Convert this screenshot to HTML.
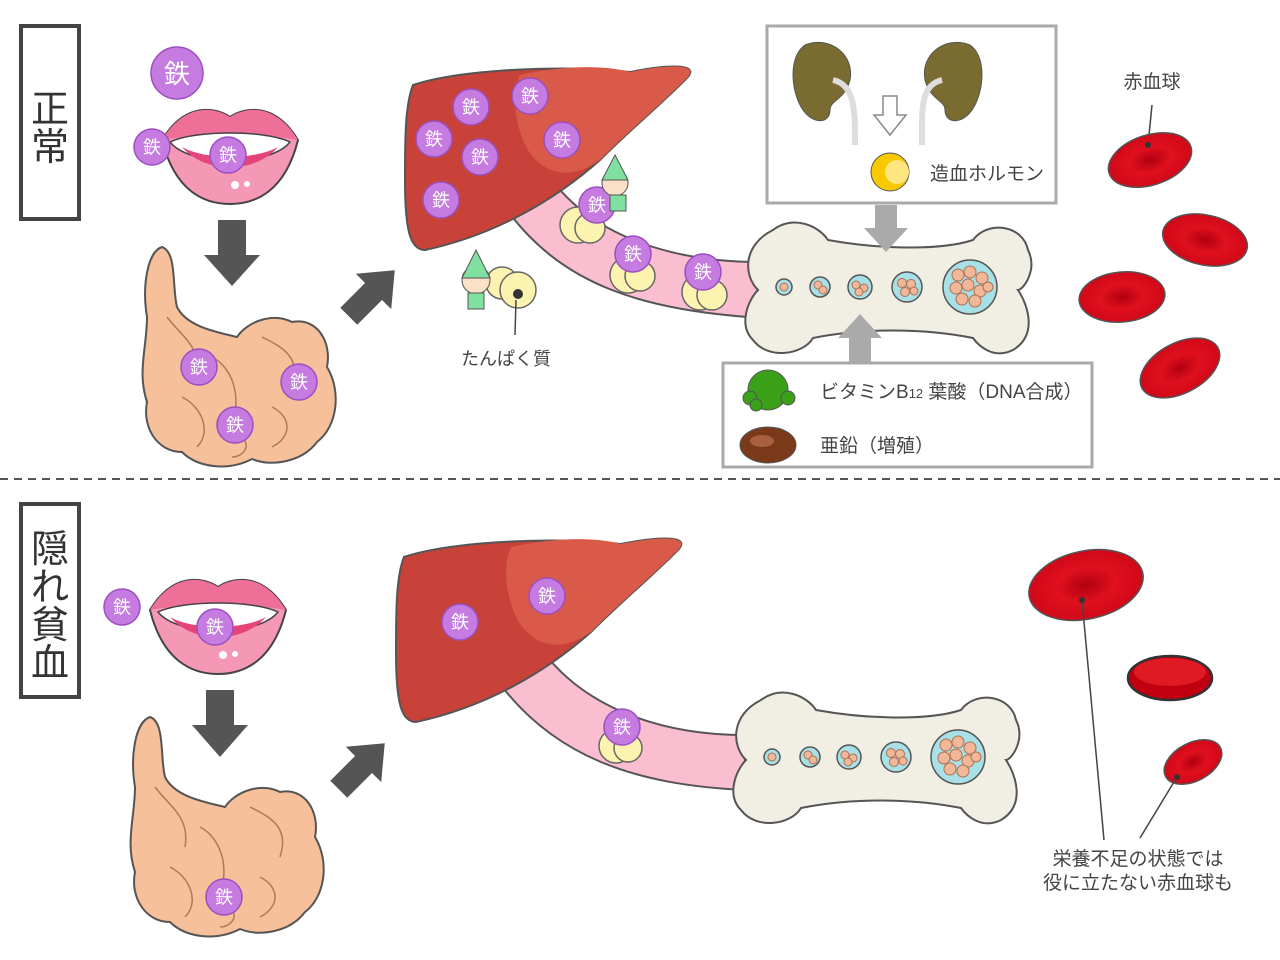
<!DOCTYPE html>
<html><head><meta charset="utf-8"><style>
html,body{margin:0;padding:0;background:#fff;}
svg{display:block;font-family:"Liberation Sans","Noto Sans CJK JP",sans-serif;}
</style></head><body>
<svg width="1280" height="960" viewBox="0 0 1280 960" xmlns="http://www.w3.org/2000/svg">
<defs>
<g id="fe"><circle r="18" fill="#c57be0" stroke="#9b4fc0" stroke-width="1.5"/><text y="6.5" text-anchor="middle" font-size="18" fill="#fff">鉄</text></g>
<radialGradient id="rbc" cx="0.5" cy="0.5" r="0.5"><stop offset="0" stop-color="#b00010"/><stop offset="0.5" stop-color="#e0101e"/><stop offset="1" stop-color="#d00818"/></radialGradient>
<g id="lips">
<path d="M-68,-12 C-45,-50 -15,-45 0,-35 C15,-45 45,-50 68,-12 C55,40 25,52 0,52 C-25,52 -55,40 -68,-12Z" fill="#f598b5" stroke="#444" stroke-width="2"/>
<path d="M-68,-12 C-45,-50 -15,-45 0,-35 C15,-45 45,-50 68,-12 C40,-18 -40,-18 -68,-12Z" fill="#ee6f98"/>
<path d="M-60,-10 C-35,-22 35,-22 60,-10 C40,15 -40,15 -60,-10Z" fill="#fff" stroke="#444" stroke-width="1.5"/>
<path d="M-48,-5 C-25,22 25,22 48,-5 C25,8 -25,8 -48,-5Z" fill="#e6457a"/>
<circle cx="5" cy="33" r="4" fill="#fff"/><circle cx="17" cy="32" r="3" fill="#fff"/>
</g>
<g id="gut">
<path d="M20,0 C35,5 30,40 35,60 C45,80 75,85 95,90 C105,75 130,65 150,75 C175,70 190,95 185,120 C200,145 195,180 175,195 C160,215 130,220 110,212 C85,225 55,220 40,205 C15,205 0,180 5,155 C-5,125 5,100 5,70 C0,40 5,5 20,0Z" fill="#f5c09a" stroke="#555" stroke-width="2"/>
<path d="M25,70 C40,90 60,100 55,130 M70,110 C90,120 100,150 90,175 M120,90 C140,100 160,110 150,140 M40,150 C60,160 70,185 55,200 M130,160 C150,170 150,190 130,200 M100,190 C110,200 100,210 90,210" fill="none" stroke="#b07a5a" stroke-width="1.5"/>
</g>
<g id="liver">
<path d="M8,25 C60,8 170,5 225,12 C260,5 300,2 280,20 C255,45 225,70 195,100 C150,140 90,175 20,190 C5,190 0,170 0,120 C0,80 0,45 8,25Z" fill="#c8423a" stroke="#555" stroke-width="2"/>
<path d="M115,15 C160,5 200,5 225,12 C260,5 300,2 280,20 C255,45 225,70 195,100 C160,125 130,110 118,80 C108,55 108,30 115,15Z" fill="#d95a48"/>
</g>
<g id="bone">
<path d="M30,10 C50,-5 75,5 85,20 C140,30 200,30 230,20 C245,0 280,5 285,30 C295,50 280,70 275,70 C285,85 295,115 270,130 C250,140 235,125 230,118 C180,108 120,108 70,118 C60,135 25,140 10,120 C-5,105 5,80 15,70 C0,55 0,25 30,10Z" fill="#f1eee4" stroke="#555" stroke-width="2"/>
</g>
</defs>

<rect x="21" y="26" width="58" height="193" fill="#fff" stroke="#444" stroke-width="4"/>
<text x="50" y="122" text-anchor="middle" font-size="38" fill="#333">正</text>
<text x="50" y="160" text-anchor="middle" font-size="38" fill="#333">常</text>

<circle cx="177" cy="73" r="26" fill="#c57be0" stroke="#9b4fc0" stroke-width="1.5"/><text x="177" y="83" text-anchor="middle" font-size="26" fill="#fff">鉄</text>
<use href="#lips" x="230" y="152"/>
<use href="#fe" x="152" y="147"/><use href="#fe" x="228" y="155"/>
<polygon points="218,220 246,220 246,255 260,255 232,286 204,255 218,255" fill="#555"/>
<use href="#gut" x="142" y="247"/>
<use href="#fe" x="199" y="367"/><use href="#fe" x="299" y="382"/><use href="#fe" x="235" y="425"/>
<g transform="translate(370,295) rotate(-45)"><polygon points="-30,-12 5,-12 5,-25 35,0 5,25 5,12 -30,12" fill="#555"/></g>

<path d="M500,200 C560,290 650,310 760,318 L760,262 C680,262 590,240 545,170Z" fill="#fbbdd0" stroke="#555" stroke-width="2"/>
<use href="#liver" x="405" y="60"/>
<use href="#fe" x="471" y="107"/><use href="#fe" x="530" y="96"/><use href="#fe" x="434" y="139"/><use href="#fe" x="480" y="157"/><use href="#fe" x="562" y="140"/><use href="#fe" x="441" y="200"/>
<g fill="#fdf3b0" stroke="#666" stroke-width="1.5">
<circle cx="578" cy="225" r="18"/><circle cx="590" cy="228" r="15"/>
<circle cx="628" cy="275" r="18"/><circle cx="640" cy="276" r="15"/>
<circle cx="700" cy="292" r="18"/><circle cx="712" cy="295" r="15"/>
<circle cx="502" cy="283" r="16"/><circle cx="518" cy="290" r="18"/>
</g>
<circle cx="518" cy="294" r="5" fill="#333"/>
<use href="#fe" x="597" y="205"/><use href="#fe" x="633" y="254"/><use href="#fe" x="703" y="272"/>
<g><circle cx="476" cy="280" r="14" fill="#fbe0c8" stroke="#555"/><path d="M462,278 L476,250 L490,278Z" fill="#7fe0a0" stroke="#555"/><rect x="468" y="293" width="16" height="16" fill="#7fe0a0" stroke="#555"/></g>
<g><circle cx="615" cy="183" r="13" fill="#fbe0c8" stroke="#555"/><path d="M602,180 L615,155 L628,180Z" fill="#7fe0a0" stroke="#555"/><rect x="610" y="195" width="16" height="16" fill="#7fe0a0" stroke="#555"/></g>
<line x1="516" y1="300" x2="515" y2="335" stroke="#444" stroke-width="1.5"/>
<text x="506" y="365" text-anchor="middle" font-size="18" fill="#444">たんぱく質</text>

<use href="#bone" x="743" y="220"/>
<g fill="#a8e0e8" stroke="#555" stroke-width="1.5">
<circle cx="784" cy="287" r="8"/><circle cx="820" cy="287" r="10"/><circle cx="860" cy="287" r="12"/><circle cx="907" cy="287" r="15"/><circle cx="970" cy="287" r="27"/></g>
<g fill="#f0b898" stroke="#b07050"><circle cx="784" cy="287" r="4"/><circle cx="818" cy="285" r="4"/><circle cx="823" cy="290" r="4"/><circle cx="856" cy="285" r="4"/><circle cx="864" cy="288" r="4"/><circle cx="859" cy="292" r="4"/><circle cx="902" cy="283" r="4.5"/><circle cx="911" cy="284" r="4.5"/><circle cx="905" cy="292" r="4.5"/><circle cx="914" cy="291" r="4"/>
<circle cx="958" cy="275" r="6"/><circle cx="970" cy="272" r="6"/><circle cx="982" cy="278" r="6"/><circle cx="956" cy="288" r="6"/><circle cx="968" cy="285" r="6"/><circle cx="980" cy="291" r="6"/><circle cx="962" cy="299" r="6"/><circle cx="975" cy="301" r="6"/><circle cx="988" cy="287" r="5"/></g>

<rect x="767" y="26" width="289" height="177" fill="#fff" stroke="#aaa" stroke-width="3"/>
<path d="M805,45 C830,35 855,55 850,80 C845,100 830,100 830,110 C830,125 810,125 800,105 C790,85 790,55 805,45Z" fill="#7a6b30" stroke="#555"/>
<path d="M833,80 C855,85 855,110 855,145" stroke="#ddd" stroke-width="6" fill="none"/>
<path d="M970,45 C945,35 920,55 925,80 C930,100 945,100 945,110 C945,125 965,125 975,105 C985,85 985,55 970,45Z" fill="#7a6b30" stroke="#555"/>
<path d="M942,80 C920,85 922,110 922,145" stroke="#ddd" stroke-width="6" fill="none"/>
<polygon points="883,96 897,96 897,115 906,115 890,135 874,115 883,115" fill="#fff" stroke="#888" stroke-width="1.5"/>
<circle cx="890" cy="172" r="19" fill="#f8c800" stroke="#555"/><circle cx="897" cy="172" r="12" fill="#ffe680"/>
<text x="930" y="180" font-size="19" fill="#444">造血ホルモン</text>
<polygon points="875,205 897,205 897,228 908,228 886,252 864,228 875,228" fill="#aaa"/>
<polygon points="849,362 871,362 871,338 882,338 860,314 838,338 849,338" fill="#aaa"/>
<rect x="723" y="363" width="369" height="104" fill="#fff" stroke="#aaa" stroke-width="3"/>
<circle cx="768" cy="390" r="20" fill="#3aa018" stroke="#555"/><circle cx="750" cy="398" r="7" fill="#3aa018" stroke="#555"/><circle cx="788" cy="398" r="7" fill="#3aa018" stroke="#555"/><circle cx="756" cy="405" r="6" fill="#3aa018" stroke="#555"/>
<text x="820" y="398" font-size="19" fill="#444">ビタミンB<tspan font-size="13">12</tspan> 葉酸（DNA合成）</text>
<ellipse cx="768" cy="445" rx="28" ry="18" fill="#7a3a1a" stroke="#555"/><ellipse cx="762" cy="441" rx="12" ry="6" fill="#a86040"/>
<text x="820" y="452" font-size="19" fill="#444">亜鉛（増殖）</text>

<text x="1152" y="88" text-anchor="middle" font-size="19" fill="#444">赤血球</text>
<line x1="1152" y1="105" x2="1148" y2="145" stroke="#444" stroke-width="1.5"/>
<g stroke="#555" stroke-width="1.5">
<ellipse cx="1150" cy="160" rx="43" ry="25" transform="rotate(-18 1150 160)" fill="url(#rbc)"/>
<ellipse cx="1205" cy="240" rx="43" ry="25" transform="rotate(12 1205 240)" fill="url(#rbc)"/>
<ellipse cx="1122" cy="297" rx="43" ry="25" transform="rotate(-5 1122 297)" fill="url(#rbc)"/>
<ellipse cx="1180" cy="368" rx="43" ry="25" transform="rotate(-28 1180 368)" fill="url(#rbc)"/>
</g>
<circle cx="1148" cy="145" r="3" fill="#333"/>

<line x1="0" y1="479" x2="1280" y2="479" stroke="#555" stroke-width="2" stroke-dasharray="8,6"/>

<rect x="21" y="504" width="58" height="193" fill="#fff" stroke="#444" stroke-width="4"/>
<text x="50" y="562" text-anchor="middle" font-size="38" fill="#333">隠</text>
<text x="50" y="600" text-anchor="middle" font-size="38" fill="#333">れ</text>
<text x="50" y="638" text-anchor="middle" font-size="38" fill="#333">貧</text>
<text x="50" y="676" text-anchor="middle" font-size="38" fill="#333">血</text>

<use href="#lips" x="218" y="622"/>
<use href="#fe" x="122" y="607"/><use href="#fe" x="215" y="627"/>
<polygon points="206,690 234,690 234,725 248,725 220,757 192,725 206,725" fill="#555"/>
<use href="#gut" x="130" y="717"/>
<use href="#fe" x="224" y="897"/>
<g transform="translate(360,768) rotate(-45)"><polygon points="-30,-12 5,-12 5,-25 35,0 5,25 5,12 -30,12" fill="#555"/></g>

<path d="M490,670 C550,760 640,785 745,790 L745,735 C665,735 580,710 535,640Z" fill="#fbbdd0" stroke="#555" stroke-width="2"/>
<use href="#liver" x="396" y="532" />
<use href="#fe" x="460" y="622"/><use href="#fe" x="547" y="596"/>
<g fill="#fdf3b0" stroke="#666" stroke-width="1.5"><circle cx="616" cy="746" r="17"/><circle cx="628" cy="748" r="14"/></g>
<use href="#fe" x="622" y="727"/>

<use href="#bone" x="731" y="690"/>
<g fill="#a8e0e8" stroke="#555" stroke-width="1.5">
<circle cx="772" cy="757" r="8"/><circle cx="810" cy="757" r="10"/><circle cx="849" cy="757" r="12"/><circle cx="896" cy="757" r="15"/><circle cx="958" cy="757" r="27"/></g>
<g fill="#f0b898" stroke="#b07050"><circle cx="772" cy="757" r="4"/><circle cx="808" cy="755" r="4"/><circle cx="813" cy="760" r="4"/><circle cx="845" cy="755" r="4"/><circle cx="853" cy="758" r="4"/><circle cx="848" cy="762" r="4"/><circle cx="891" cy="753" r="4.5"/><circle cx="900" cy="754" r="4.5"/><circle cx="894" cy="762" r="4.5"/><circle cx="903" cy="761" r="4"/>
<circle cx="946" cy="745" r="6"/><circle cx="958" cy="742" r="6"/><circle cx="970" cy="748" r="6"/><circle cx="944" cy="758" r="6"/><circle cx="956" cy="755" r="6"/><circle cx="968" cy="761" r="6"/><circle cx="950" cy="769" r="6"/><circle cx="963" cy="771" r="6"/><circle cx="976" cy="757" r="5"/></g>

<g stroke="#555" stroke-width="1.5">
<ellipse cx="1086" cy="585" rx="58" ry="34" transform="rotate(-12 1086 585)" fill="url(#rbc)"/>
<ellipse cx="1170" cy="678" rx="42" ry="22" fill="#c00010" stroke="#333" stroke-width="2.5"/>
<ellipse cx="1193" cy="762" rx="31" ry="19" transform="rotate(-28 1193 762)" fill="url(#rbc)"/>
</g>
<ellipse cx="1170" cy="672" rx="36" ry="14" fill="#e01a22"/>
<line x1="1082" y1="600" x2="1104" y2="840" stroke="#444" stroke-width="1.5"/>
<line x1="1177" y1="777" x2="1140" y2="838" stroke="#444" stroke-width="1.5"/>
<circle cx="1082" cy="600" r="3" fill="#333"/><circle cx="1177" cy="777" r="3" fill="#333"/>
<text x="1138" y="865" text-anchor="middle" font-size="19" fill="#444">栄養不足の状態では</text>
<text x="1138" y="889" text-anchor="middle" font-size="19" fill="#444">役に立たない赤血球も</text>
</svg>
</body></html>
